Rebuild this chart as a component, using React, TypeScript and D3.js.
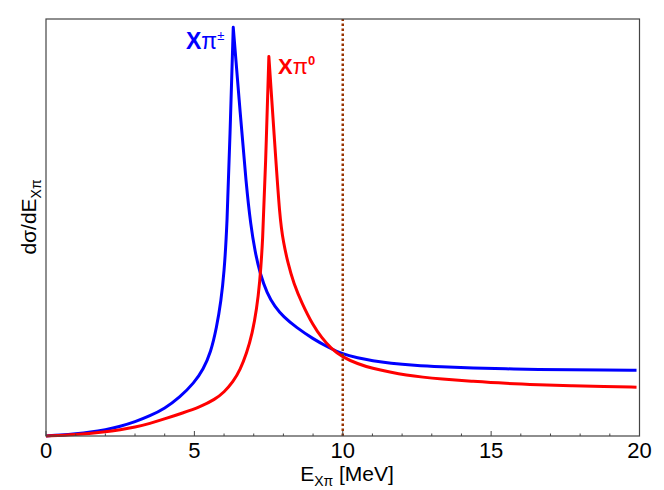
import * as d3 from 'd3'

// values (y in arbitrary units, 0..100 = frame height)
const ePiCharged = [0, 0.5, 1, 1.5, 2, 2.5, 3, 3.5, 4, 4.5, 5, 5.3, 5.55, 5.75, 5.9, 6.0, 6.1, 6.2, 6.31, 6.55, 6.75, 6.9, 7.05, 7.21, 7.45, 7.71, 8.0, 8.44, 9.0, 9.5, 10, 10.5, 11, 11.6, 12.4, 13.3, 14.4, 15.5, 16.6, 17.7, 18.8, 19.9]
const dsPiCharged = [0, 0.2, 0.5, 0.9, 1.5, 2.3, 3.4, 4.8, 6.6, 9.2, 12.8, 16, 20, 26, 32.5, 39, 50, 72, 98, 77, 60, 50.5, 44, 39, 34.2, 31, 28.6, 26.0, 23.3, 21.3, 19.6, 18.75, 18.05, 17.45, 16.95, 16.6, 16.3, 16.1, 15.95, 15.85, 15.8, 15.75]

const ePiNeutral = [0, 1, 2, 2.5, 3, 3.5, 4, 4.6, 5.2, 5.7, 6.0, 6.3, 6.55, 6.76, 6.95, 7.1, 7.2, 7.3, 7.4, 7.51, 7.7, 7.88, 8.0, 8.15, 8.35, 8.62, 9.0, 9.29, 9.6, 10, 10.5, 11.0, 11.6, 12.14, 12.7, 13.27, 14.4, 15.5, 16.6, 17.7, 18.8, 19.9]
const dsPiNeutral = [0, 0.3, 1.0, 1.5, 2.1, 3.0, 4.1, 5.5, 7.0, 8.8, 10.5, 12.9, 16.0, 19.8, 24.5, 30.5, 36.5, 46, 65, 91, 71, 52, 46.5, 41.5, 36.5, 31.9, 26.5, 23.6, 21.0, 18.9, 17.3, 16.2, 15.3, 14.6, 14.1, 13.7, 13.1, 12.6, 12.3, 12.05, 11.85, 11.7]

const xTicks = [0, 5, 10, 15, 20]
const xMinorTicks = d3.range(0, 21, 1)
const threshold = 10

const font = '"Liberation Sans", Arial, Helvetica, sans-serif'

export default function App() {
  const width = 664
  const height = 490
  const x = d3.scaleLinear().domain([0, 20]).range([46, 639.5])
  const y = d3.scaleLinear().domain([0, 100]).range([436, 19])

  const line = d3
    .line<[number, number]>()
    .x(d => x(d[0]))
    .y(d => y(d[1]))
    .curve(d3.curveBasis)

  // split at the peak so the cusp stays sharp
  const cuspPath = (es: number[], vs: number[]) => {
    const pts = es.map((e, i) => [e, vs[i]] as [number, number])
    const k = vs.indexOf(d3.max(vs) as number)
    const left = line(pts.slice(0, k + 1)) || ''
    const right = (line(pts.slice(k)) || '').replace(/^M/, 'L')
    return left + right
  }

  const [y0, y1] = y.range()

  return (
    <svg width={width} height={height} style={{position: 'absolute', left: 0, top: 0, background: '#fff'}}>
      <path d={cuspPath(ePiCharged, dsPiCharged)} fill="none" stroke="#0000ff" strokeWidth={3} strokeLinejoin="round" />
      <path d={cuspPath(ePiNeutral, dsPiNeutral)} fill="none" stroke="#ff0000" strokeWidth={3} strokeLinejoin="round" />
      <line
        x1={x(threshold)}
        x2={x(threshold)}
        y1={y0}
        y2={y1}
        stroke="#993300"
        strokeWidth={2.5}
        strokeDasharray="2.5,2.5"
      />

      <rect x={x(0)} y={y1} width={x(20) - x(0)} height={y0 - y1} fill="none" stroke="#444" strokeWidth={1.2} />

      {xMinorTicks.map(t => (
        <line key={'m' + t} x1={x(t)} x2={x(t)} y1={y0} y2={y0 - (t % 5 === 0 ? 5 : 2.5)} stroke="#444" strokeWidth={1} />
      ))}
      {xTicks.map(t => (
        <text key={t} x={x(t)} y={458} textAnchor="middle" fontFamily={font} fontSize={22} fill="#000">
          {t}
        </text>
      ))}

      <text x={347} y={481} textAnchor="middle" fontFamily={font} fontSize={21} fill="#000">
        E
        <tspan fontSize={14} dy={5}>Xπ</tspan>
        <tspan dy={-5}> [MeV]</tspan>
      </text>

      <text transform="translate(36,217) rotate(-90)" textAnchor="middle" fontFamily={font} fontSize={21} fill="#000">
        dσ/dE
        <tspan fontSize={14} dy={5}>Xπ</tspan>
      </text>

      <text x={186} y={49} fontFamily={font} fontSize={23} fill="#0000ff">
        <tspan fontWeight="bold">X</tspan>
        <tspan>π</tspan>
        <tspan fontSize={13} dy={-9}>±</tspan>
      </text>
      <text x={278} y={74} fontFamily={font} fontSize={22} fill="#ff0000">
        <tspan fontWeight="bold">X</tspan>
        <tspan>π</tspan>
        <tspan fontSize={13} fontWeight="bold" dy={-9}>0</tspan>
      </text>
    </svg>
  )
}
